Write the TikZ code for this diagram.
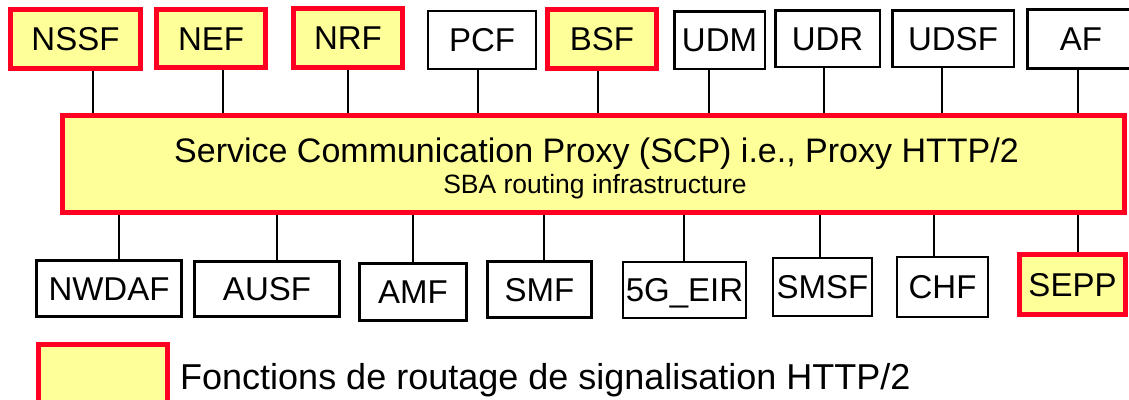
\documentclass[tikz,border=0pt]{standalone}
\usepackage{fontspec}
\setmainfont{Liberation Sans}
\pgfdeclarelayer{wires}
\pgfsetlayers{wires,main}
\definecolor{sbaRed}{RGB}{255,0,35}
\definecolor{sbaYellow}{RGB}{255,255,153}
\tikzset{
  nfbase/.style={rectangle, inner sep=0pt, outer sep=0pt,
    font=\fontsize{33}{40}\selectfont, text height=23.6pt, text depth=0pt},
  boldbox/.style={nfbase, draw=black, fill=white, line width=3pt},
  plainbox/.style={nfbase, draw=black, fill=white, line width=2.5pt},
  thinbox/.style={nfbase, draw=black, fill=white, line width=1.8pt},
  routebox/.style={nfbase, draw=sbaRed, fill=sbaYellow, line width=5pt},
  wire/.style={draw=black, line width=2.7pt},
  thinwire/.style={draw=black, line width=2pt},
}
\begin{document}
\begin{tikzpicture}[x=1pt, y=-1pt]
\useasboundingbox (0,0) rectangle (1129,399);

% upper row of network functions
\node[routebox, minimum width=130, minimum height=59] (nssf) at (75.5,39)   {NSSF};
\node[routebox, minimum width=109, minimum height=58] (nef)  at (211,38.5)  {NEF};
\node[routebox, minimum width=109, minimum height=59] (nrf)  at (348,38)    {NRF};
\node[thinbox,  minimum width=108, minimum height=58] (pcf)  at (482,40)    {PCF};
\node[routebox, minimum width=109, minimum height=59] (bsf)  at (602,39)    {BSF};
\node[plainbox, minimum width=90.5, minimum height=57.5] (udm) at (719.5,40) {UDM};
\node[plainbox, minimum width=104.5, minimum height=56.5] (udr) at (827.5,38.5) {UDR};
\node[plainbox, minimum width=121.5, minimum height=56.5] (udsf) at (953,38.5) {UDSF};
\node[boldbox,  minimum width=107, minimum height=59] (af)   at (1081,39)   {AF};

% service communication proxy
\node[routebox, minimum width=1062, minimum height=97] (scp) at (593.5,164) {};
\node[anchor=base, inner sep=0pt, font=\fontsize{34}{40}\selectfont] (scptitle) at (596.5,162)
  {Service Communication Proxy (SCP) i.e., Proxy HTTP/2};
\node[anchor=base, inner sep=0pt, font=\fontsize{26.5}{30}\selectfont] (scpsub) at (595,193)
  {SBA routing infrastructure};

% lower row of network functions
\node[boldbox,  minimum width=145, minimum height=56] (nwdaf) at (109,288.5)  {NWDAF};
\node[boldbox,  minimum width=145, minimum height=55] (ausf)  at (267,289)    {AUSF};
\node[boldbox,  minimum width=107, minimum height=57] (amf)   at (413,292)    {AMF};
\node[boldbox,  minimum width=104, minimum height=56] (smf)   at (539.5,289.5) {SMF};
\node[thinbox,  minimum width=123, minimum height=56] (eir)   at (684.5,290)  {5G\_EIR};
\node[thinbox,  minimum width=99,  minimum height=58] (smsf)  at (822.5,287)  {SMSF};
\node[thinbox,  minimum width=91,  minimum height=60] (chf)   at (942.5,287)  {CHF};
\node[routebox, minimum width=106, minimum height=60] (sepp)  at (1072.5,284.5) {SEPP};

% legend
\node[routebox, minimum width=129, minimum height=59] (key) at (103,374) {};
\node[anchor=base west, inner sep=0pt, font=\fontsize{36}{40}\selectfont] (keytext) at (180,389)
  {Fonctions de routage de signalisation HTTP/2};

% connections to the proxy, kept behind the boxes
\begin{pgfonlayer}{wires}
  \foreach \nf/\dx in {nssf/17.5, nef/12, nrf/0, pcf/-4, bsf/-4, udm/-10.5, udr/-3.5, udsf/-11, af/-3}
    \draw[wire] ([xshift=\dx]\nf.south) -- ([xshift=\dx]\nf.south |- scp.north);
  \foreach \nf/\dx in {nwdaf/10, ausf/10, amf/0, smf/4.5, sepp/5.5}
    \draw[wire] ([xshift=\dx]\nf.north) -- ([xshift=\dx]\nf.north |- scp.south);
  \foreach \nf/\dx in {eir/-0.5, smsf/-2.5, chf/-8.5}
    \draw[thinwire] ([xshift=\dx]\nf.north) -- ([xshift=\dx]\nf.north |- scp.south);
\end{pgfonlayer}
\end{tikzpicture}
\end{document}
